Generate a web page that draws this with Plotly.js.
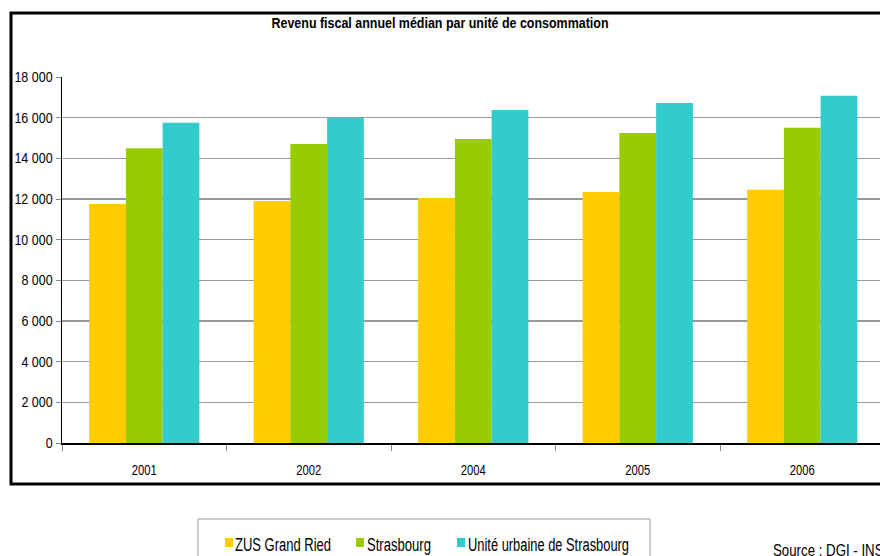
<!DOCTYPE html>
<html><head><meta charset="utf-8">
<script src="https://cdn.plot.ly/plotly-3.0.1.min.js"></script>
<style>body{margin:0;padding:0;background:#fff}#c{width:880px;height:556px}</style>
</head><body><div id="c"></div>
<script>
const years = ['2001','2002','2004','2005','2006'];
const zus = [11750, 11900, 12050, 12350, 12450];
const strasbourg = [14500, 14700, 14950, 15250, 15500];
const uniteUrbaine = [15750, 16000, 16380, 16720, 17080];
const seriesNames = ['ZUS Grand Ried', 'Strasbourg', 'Unité urbaine de Strasbourg'];
const colors = ['#FFCC00', '#99CC00', '#33CCCC'];
const yTicks = [0,2000,4000,6000,8000,10000,12000,14000,16000,18000];
const titleText = 'Revenu fiscal annuel médian par unité de consommation';
const sourceText = 'Source : DGI - INSEE';

const L = 62, R = 880, T = 77, B = 443;
const pw = R - L, ph = B - T;
const px = v => (v - L) / pw;
const py = v => (B - v) / ph;

const font = 'Arial, "Liberation Sans", sans-serif';

const traces = [zus, strasbourg, uniteUrbaine].map((vals, i) => ({
  type: 'bar', x: years, y: vals, name: seriesNames[i],
  marker: {color: colors[i], line: {width: 0}}
}));

// legend geometry (pixels)
const legSq = [225, 356, 457];
const legTx = [234, 366, 467];
const legW = [96, 64, 161];

const shapes = [
  {type: 'rect', xref: 'paper', yref: 'paper', x0: px(11), x1: px(900), y0: py(13), y1: py(484),
   line: {color: '#000', width: 3}, fillcolor: 'rgba(0,0,0,0)', layer: 'above'},
  {type: 'rect', xref: 'paper', yref: 'paper', x0: px(198), x1: px(650), y0: py(519), y1: py(600),
   line: {color: '#999', width: 1}, fillcolor: '#fff', layer: 'above'}
];
legSq.forEach((x, i) => shapes.push({type: 'rect', xref: 'paper', yref: 'paper',
  x0: px(x), x1: px(x + 8), y0: py(538), y1: py(547), line: {width: 0}, fillcolor: colors[i], layer: 'above'}));

const annotations = seriesNames.map((n, i) => ({
  text: n, xref: 'paper', yref: 'paper', x: px(legTx[i]), y: py(545), xanchor: 'left', yanchor: 'middle',
  align: 'left', showarrow: false, font: {family: font, size: 18, color: '#000'}, borderpad: 0
}));
annotations.push({text: sourceText, xref: 'paper', yref: 'paper', x: px(772), y: py(550),
  xanchor: 'left', yanchor: 'middle', align: 'left', showarrow: false, borderpad: 0,
  font: {family: font, size: 17, color: '#000'}});

const layout = {
  width: 880, height: 556,
  margin: {l: L, r: 0, t: T, b: 556 - B},
  paper_bgcolor: '#fff', plot_bgcolor: '#fff',
  separators: ', ',
  barmode: 'group', bargap: 0.33, bargroupgap: 0,
  showlegend: false,
  title: {text: titleText,
    font: {family: font, size: 14, color: '#000', weight: 'bold'},
    x: 0.5, xref: 'container', xanchor: 'center', y: 1 - 23/556, yanchor: 'middle'},
  xaxis: {type: 'category', range: [-0.5, -0.5 + pw / 164.5],
    showline: true, linecolor: '#000', linewidth: 1.5,
    ticks: 'outside', tickson: 'boundaries', ticklen: 6, tickcolor: '#888', tickwidth: 1,
    ticklabelstandoff: 12,
    showgrid: false, zeroline: false,
    tickfont: {family: font, size: 15, color: '#000'}},
  yaxis: {range: [0, 18000], tickvals: yTicks, tickformat: ',d',
    showline: true, linecolor: '#000', linewidth: 1.5,
    ticks: 'outside', ticklen: 5, tickcolor: '#888', tickwidth: 1,
    showgrid: true, gridcolor: '#999', gridwidth: 1.5, zeroline: false,
    tickfont: {family: font, size: 14.5, color: '#000'}},
  shapes: shapes,
  annotations: annotations
};

function squeeze(el, target) {
  const w = el.getComputedTextLength();
  if (w > 0) {
    el.setAttribute('textLength', target(w));
    el.setAttribute('lengthAdjust', 'spacingAndGlyphs');
  }
}

Plotly.newPlot('c', traces, layout, {displayModeBar: false, staticPlot: true}).then(gd => {
  gd.querySelectorAll('.ytick text').forEach(t => squeeze(t, w => w * 0.86));
  gd.querySelectorAll('.xtick text').forEach(t => squeeze(t, w => w * 0.75));
  gd.querySelectorAll('.gtitle').forEach(t => squeeze(t, w => 337));
  gd.querySelectorAll('.annotation-text').forEach(t => {
    const i = seriesNames.indexOf(t.textContent);
    if (i >= 0) squeeze(t, w => legW[i]);
    else squeeze(t, w => w * 0.78);
  });
});
</script></body></html>
